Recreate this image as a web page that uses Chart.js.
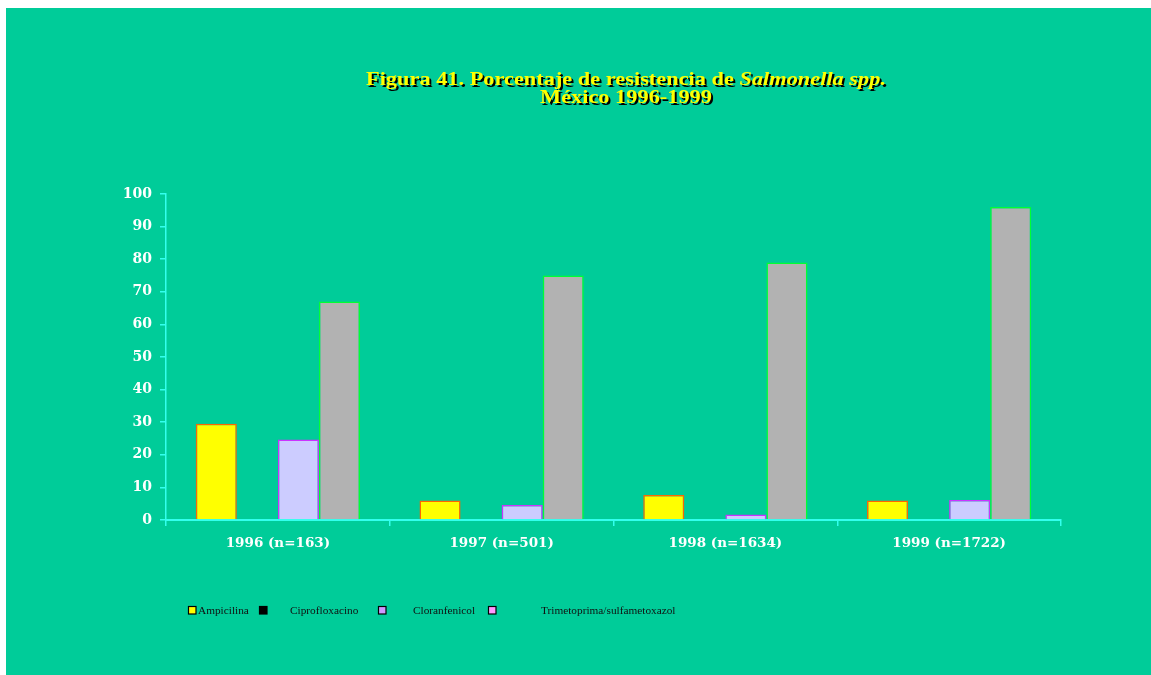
<!DOCTYPE html>
<html>
<head>
<meta charset="utf-8">
<script src="https://cdn.jsdelivr.net/npm/chart.js@4/dist/chart.umd.min.js"></script>
<style>
  html, body { margin: 0; padding: 0; background: #ffffff; }
  #wrap { position: absolute; left: 6px; top: 8px; width: 1145px; height: 667px; background: #00CC99; }
</style>
</head>
<body>
<div id="wrap"><canvas id="c"></canvas></div>
<script>
const categories = ['1996 (n=163)', '1997 (n=501)', '1998 (n=1634)', '1999 (n=1722)'];
const seriesNames = ['Ampicilina', 'Ciprofloxacino', 'Cloranfenicol', 'Trimetoprima/sulfametoxazol'];
const ampicilina = [29.5, 6, 7.7, 6];
const ciprofloxacino = [0, 0, 0, 0];
const cloranfenicol = [24.7, 4.6, 1.7, 6.1];
const trimetoprima = [67, 75, 79, 96];
const yTickValues = [0, 10, 20, 30, 40, 50, 60, 70, 80, 90, 100];
const titleLine1 = ['Figura 41. Porcentaje de resistencia de ', 'Salmonella spp.'];
const titleLine2 = 'México 1996-1999';

const AXIS = '#33FFEE';

const titlePlugin = {
  id: 'shadowTitle',
  afterDraw(chart) {
    const ctx = chart.ctx;
    ctx.save();
    const fBold = 'bold 18px "Liberation Serif"';
    const fIt = 'italic bold 18px "Liberation Serif"';
    ctx.font = fBold; const w1 = ctx.measureText(titleLine1[0]).width;
    ctx.font = fIt; const w2 = ctx.measureText(titleLine1[1]).width;
    const total = w1 + w2;
    const sx = 520 / total;
    const cx = 620;
    const drawParts = (dx, dy, color) => {
      ctx.fillStyle = color;
      ctx.textBaseline = 'alphabetic';
      ctx.textAlign = 'left';
      ctx.save();
      ctx.translate(cx + dx, 0);
      ctx.scale(sx, 1);
      let x = -total / 2;
      ctx.font = fBold; ctx.fillText(titleLine1[0], x, 77 + dy);
      ctx.font = fIt; ctx.fillText(titleLine1[1], x + w1, 77 + dy);
      ctx.font = fBold;
      const w3 = ctx.measureText(titleLine2).width;
      ctx.fillText(titleLine2, -w3 / 2, 95 + dy);
      ctx.restore();
    };
    drawParts(2, 2, '#000000');
    drawParts(0, 0, '#FFFF00');
    ctx.restore();
  }
};

const legendPlugin = {
  id: 'customLegend',
  afterDraw(chart) {
    const ctx = chart.ctx;
    const boxX = [182, 253, 372, 482];
    const textX = [192, 284, 407, 535];
    const boxColors = ['#FFFF00', '#000000', '#CC99FF', '#FF99FF'];
    ctx.save();
    ctx.font = '11.3px "Liberation Serif"';
    ctx.textBaseline = 'alphabetic';
    chart.data.datasets.forEach((ds, i) => {
      ctx.fillStyle = boxColors[i];
      ctx.fillRect(boxX[i], 598, 8, 8);
      ctx.strokeStyle = '#000000';
      ctx.lineWidth = 1.2;
      ctx.strokeRect(boxX[i] + 0.5, 598.5, 7.5, 7.5);
      ctx.fillStyle = '#111111';
      ctx.fillText(ds.label, textX[i], 606);
    });
    ctx.restore();
  }
};

new Chart(document.getElementById('c'), {
  type: 'bar',
  data: {
    labels: categories,
    datasets: [
      { label: seriesNames[0], data: ampicilina, backgroundColor: '#FFFF00', borderColor: '#FF6600', borderWidth: 1.5 },
      { label: seriesNames[1], data: ciprofloxacino, backgroundColor: '#000000', borderColor: '#000000', borderWidth: 0 },
      { label: seriesNames[2], data: cloranfenicol, backgroundColor: '#CCCCFF', borderColor: '#CC33FF', borderWidth: 1.5 },
      { label: seriesNames[3], data: trimetoprima, backgroundColor: '#B2B2B2', borderColor: '#00FF33', borderWidth: 1.5 }
    ]
  },
  options: {
    responsive: true,
    maintainAspectRatio: false,
    animation: false,
    layout: { padding: { top: 186, right: 90, bottom: 115, left: 0 } },
    datasets: { bar: { categoryPercentage: 0.734, barPercentage: 1.0 } },
    plugins: { legend: { display: false }, title: { display: false }, tooltip: { enabled: false } },
    scales: {
      x: {
        afterFit(s) { s.height = 40; },
        grid: { display: true, drawOnChartArea: false, drawTicks: true, tickLength: 6, color: AXIS, lineWidth: 1.5, offset: true },
        border: { display: true, color: AXIS, width: 2 },
        ticks: { color: '#FFFFFF', font: { family: '"DejaVu Serif"', weight: 'bold', size: 13.5 }, padding: 9 }
      },
      y: {
        min: 0, max: 100,
        afterFit(s) { s.width = 160; },
        afterBuildTicks(s) { s.ticks = yTickValues.map(v => ({ value: v })); },
        grid: { display: true, drawOnChartArea: false, drawTicks: true, tickLength: 6, color: AXIS, lineWidth: 1.5 },
        border: { display: true, color: AXIS, width: 1.5 },
        ticks: { color: '#FFFFFF', font: { family: '"DejaVu Serif"', weight: 'bold', size: 14 }, padding: 8 }
      }
    }
  },
  plugins: [titlePlugin, legendPlugin]
});
</script>
</body>
</html>
